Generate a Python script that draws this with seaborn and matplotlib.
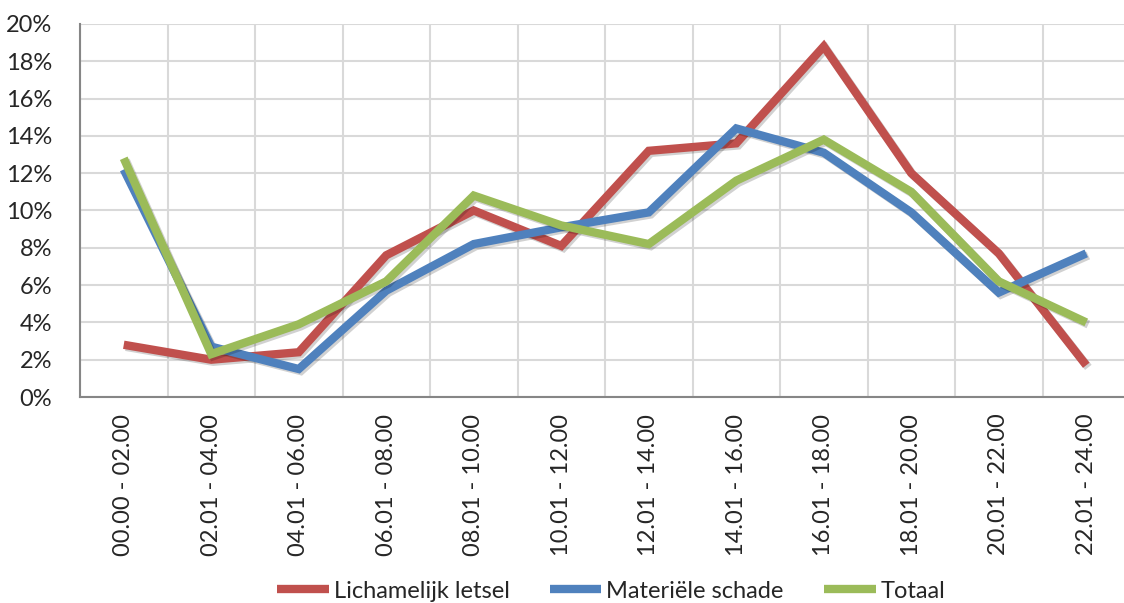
import pandas as pd
import matplotlib.pyplot as plt
import matplotlib.patheffects as pe
import seaborn as sns

# time slots (x axis)
slots = ['00.00 - 02.00', '02.01 - 04.00', '04.01 - 06.00', '06.01 - 08.00',
         '08.01 - 10.00', '10.01 - 12.00', '12.01 - 14.00', '14.01 - 16.00',
         '16.01 - 18.00', '18.01 - 20.00', '20.01 - 22.00', '22.01 - 24.00']

# percentages
letsel = [2.8, 2.0, 2.4, 7.6, 10.0, 8.1, 13.2, 13.6, 18.8, 12.0, 7.7, 1.7]
schade = [12.2, 2.7, 1.5, 5.7, 8.2, 9.1, 9.9, 14.4, 13.1, 9.9, 5.6, 7.7]
totaal = [12.8, 2.3, 3.9, 6.2, 10.8, 9.2, 8.2, 11.6, 13.8, 11.0, 6.2, 4.0]

series = ['Lichamelijk letsel', 'Materiële schade', 'Totaal']
colors = ['#C0504D', '#4F81BD', '#9BBB59']

df = pd.concat([
    pd.DataFrame({'slot': slots, 'pct': vals, 'serie': name})
    for name, vals in zip(series, [letsel, schade, totaal])
])

sns.set_style('white')
plt.rcParams['font.family'] = ['Lato', 'DejaVu Sans']

fig = plt.figure(figsize=(11.24, 6.03), dpi=100)
ax = fig.add_axes([80 / 1124, 206 / 603, 1050 / 1124, 373 / 603])

sns.lineplot(data=df, x='slot', y='pct', hue='serie', palette=colors,
             linewidth=6, sort=False, ax=ax, legend=False)
for line in ax.lines:
    line.set_solid_joinstyle('miter')
    line.set_solid_capstyle('butt')
    line.set_path_effects([pe.SimpleLineShadow(offset=(1.5, -1.5), alpha=0.18),
                           pe.Normal()])

ax.set_xlim(-0.5, len(slots) - 0.5)
ax.set_ylim(0, 20)
ax.set_yticks(range(0, 21, 2))
ax.set_yticklabels([f'{v}%' for v in range(0, 21, 2)], fontsize=17)
ax.set_xticks(range(len(slots)))
ax.set_xticklabels(slots, rotation=90, fontsize=17)
ax.set_xticks([i + 0.5 for i in range(-1, len(slots))], minor=True)
ax.tick_params(axis='x', which='major', length=0, pad=12)
ax.tick_params(axis='x', which='minor', length=7, width=1.5, color='#868686')
ax.tick_params(axis='y', length=7, width=1.5, color='#868686', pad=13)
ax.set_xlabel('')
ax.set_ylabel('')

ax.grid(True, axis='y', color='#D9D9D9', linewidth=1.5)
ax.grid(True, axis='x', which='minor', color='#D9D9D9', linewidth=1.5)
ax.set_axisbelow(True)
for side in ['top', 'right']:
    ax.spines[side].set_visible(False)
for side in ['left', 'bottom']:
    ax.spines[side].set_color('#868686')
    ax.spines[side].set_linewidth(1.5)

handles = [plt.Line2D([], [], color=c, linewidth=6, solid_capstyle='butt') for c in colors]
fig.legend(handles, series, loc='center', bbox_to_anchor=(611 / 1124, 1 - 591 / 603),
           ncol=3, frameon=False, fontsize=17, handlelength=2.2,
           handletextpad=0.2, columnspacing=1.7)

fig.savefig('out.png', dpi=100)
